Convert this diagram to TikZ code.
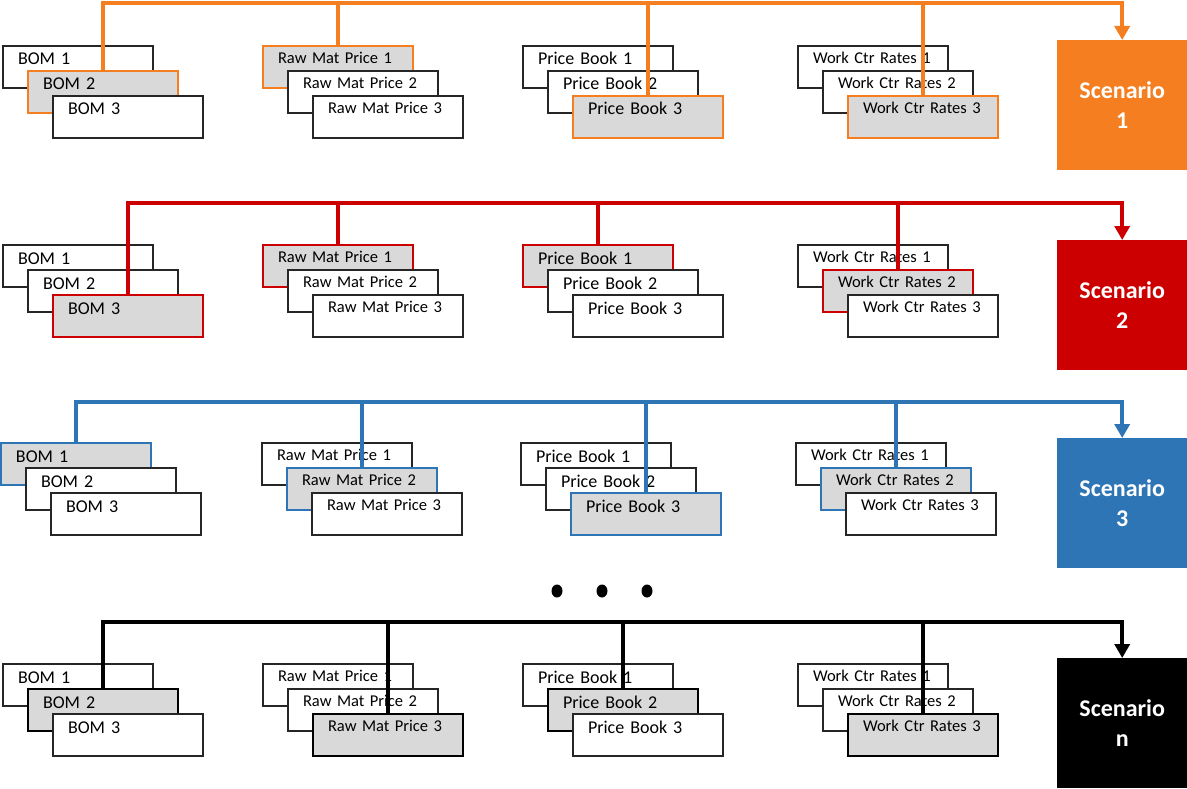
\documentclass[tikz,border=0pt]{standalone}
\usepackage{fontspec}
\setmainfont{Carlito}
\usetikzlibrary{arrows.meta}
\definecolor{scorange}{RGB}{244,126,32}
\definecolor{scred}{RGB}{204,0,0}
\definecolor{scblue}{RGB}{46,117,182}
\definecolor{scblack}{RGB}{0,0,0}
\definecolor{hlgray}{RGB}{217,217,217}
\definecolor{edge}{RGB}{38,38,38}
\tikzset{
  box/.style={draw=edge, line width=2pt, fill=white, anchor=north west,
    inner xsep=15pt, inner ysep=0pt, text width=120pt, align=left},
  bigtxt/.style={font=\fontsize{18}{20}\selectfont, text height=19pt, text depth=23pt},
  smalltxt/.style={font=\fontsize{16.5}{18}\selectfont, text height=17.5pt, text depth=24.5pt},
  scen/.style={anchor=north west, minimum width=130pt, minimum height=130pt,
    inner sep=0pt, text=white, align=center,
    font=\fontsize{24}{30}\selectfont\bfseries},
  conn/.style={line width=4pt, draw=#1},
  arr/.style={line width=4pt, draw=#1, line join=miter, -{Triangle[width=15pt,length=14pt]}}
}
% #1 name, #2 x, #3 y, #4 label, #5 text style, #6 highlighted index, #7 colour
\newcommand\grp[7]{%
  \foreach \i in {1,2,3}{%
    \ifnum\i=#6\relax
      \node[box,#5,fill=hlgray,draw=#7] (#1\i) at ({#2+25*(\i-1)},{#3+25*(\i-1)}) {#4 \i};
    \else
      \node[box,#5] (#1\i) at ({#2+25*(\i-1)},{#3+25*(\i-1)}) {#4 \i};
    \fi
  }%
}
\begin{document}
\begin{tikzpicture}[x=1pt,y=-1pt]
\useasboundingbox (0,0) rectangle (1187,789);

% ---------- Row 1 ----------
\grp{ab}{2}{45}{BOM}{bigtxt}{2}{scorange}
\grp{ar}{262}{45}{Raw Mat Price}{smalltxt}{1}{scorange}
\grp{ap}{522}{45}{Price Book}{bigtxt}{3}{scorange}
\grp{aw}{797}{45}{Work Ctr Rates}{smalltxt}{3}{scorange}
\node[scen,fill=scorange] (sc1) at (1057,40) {Scenario\\1};
\coordinate (bus1) at (0,3);

% ---------- Row 2 ----------
\grp{bb}{2}{244}{BOM}{bigtxt}{3}{scred}
\grp{br}{262}{244}{Raw Mat Price}{smalltxt}{1}{scred}
\grp{bp}{522}{244}{Price Book}{bigtxt}{1}{scred}
\grp{bw}{797}{244}{Work Ctr Rates}{smalltxt}{2}{scred}
\node[scen,fill=scred] (sc2) at (1057,240) {Scenario\\2};
\coordinate (bus2) at (0,203);

% ---------- Row 3 ----------
\grp{cb}{0}{442}{BOM}{bigtxt}{1}{scblue}
\grp{cr}{261}{442}{Raw Mat Price}{smalltxt}{2}{scblue}
\grp{cp}{520}{442}{Price Book}{bigtxt}{3}{scblue}
\grp{cw}{795}{442}{Work Ctr Rates}{smalltxt}{2}{scblue}
\node[scen,fill=scblue] (sc3) at (1057,438) {Scenario\\3};
\coordinate (bus3) at (0,402);

% ---------- Row n ----------
\grp{db}{2}{663}{BOM}{bigtxt}{2}{scblack}
\grp{dr}{262}{663}{Raw Mat Price}{smalltxt}{3}{scblack}
\grp{dp}{522}{663}{Price Book}{bigtxt}{2}{scblack}
\grp{dw}{797}{663}{Work Ctr Rates}{smalltxt}{3}{scblack}
\node[scen,fill=scblack] (sc4) at (1057,658) {Scenario\\n};
\coordinate (bus4) at (0,622);

% ---------- connectors ----------
\draw[arr=scorange] (ab2.north) |- (bus1 -| sc1.north) -- (sc1.north);
\draw[conn=scorange] (ar1.north) -- (ar1.north |- bus1);
\draw[conn=scorange] (ap3.north) -- (ap3.north |- bus1);
\draw[conn=scorange] (aw3.north) -- (aw3.north |- bus1);

\draw[arr=scred] (bb3.north) |- (bus2 -| sc2.north) -- (sc2.north);
\draw[conn=scred] (br1.north) -- (br1.north |- bus2);
\draw[conn=scred] (bp1.north) -- (bp1.north |- bus2);
\draw[conn=scred] (bw2.north) -- (bw2.north |- bus2);

\draw[arr=scblue] (cb1.north) |- (bus3 -| sc3.north) -- (sc3.north);
\draw[conn=scblue] (cr2.north) -- (cr2.north |- bus3);
\draw[conn=scblue] (cp3.north) -- (cp3.north |- bus3);
\draw[conn=scblue] (cw2.north) -- (cw2.north |- bus3);

\draw[arr=scblack] (db2.north) |- (bus4 -| sc4.north) -- (sc4.north);
\draw[conn=scblack] (dr3.north) -- (dr3.north |- bus4);
\draw[conn=scblack] (dp2.north) -- (dp2.north |- bus4);
\draw[conn=scblack] (dw3.north) -- (dw3.north |- bus4);

% ---------- ellipsis dots ----------
\fill (557,591) ellipse [x radius=5.5pt, y radius=6.5pt];
\fill (602,591) ellipse [x radius=5.5pt, y radius=6.5pt];
\fill (647,591) ellipse [x radius=5.5pt, y radius=6.5pt];
\end{tikzpicture}
\end{document}
